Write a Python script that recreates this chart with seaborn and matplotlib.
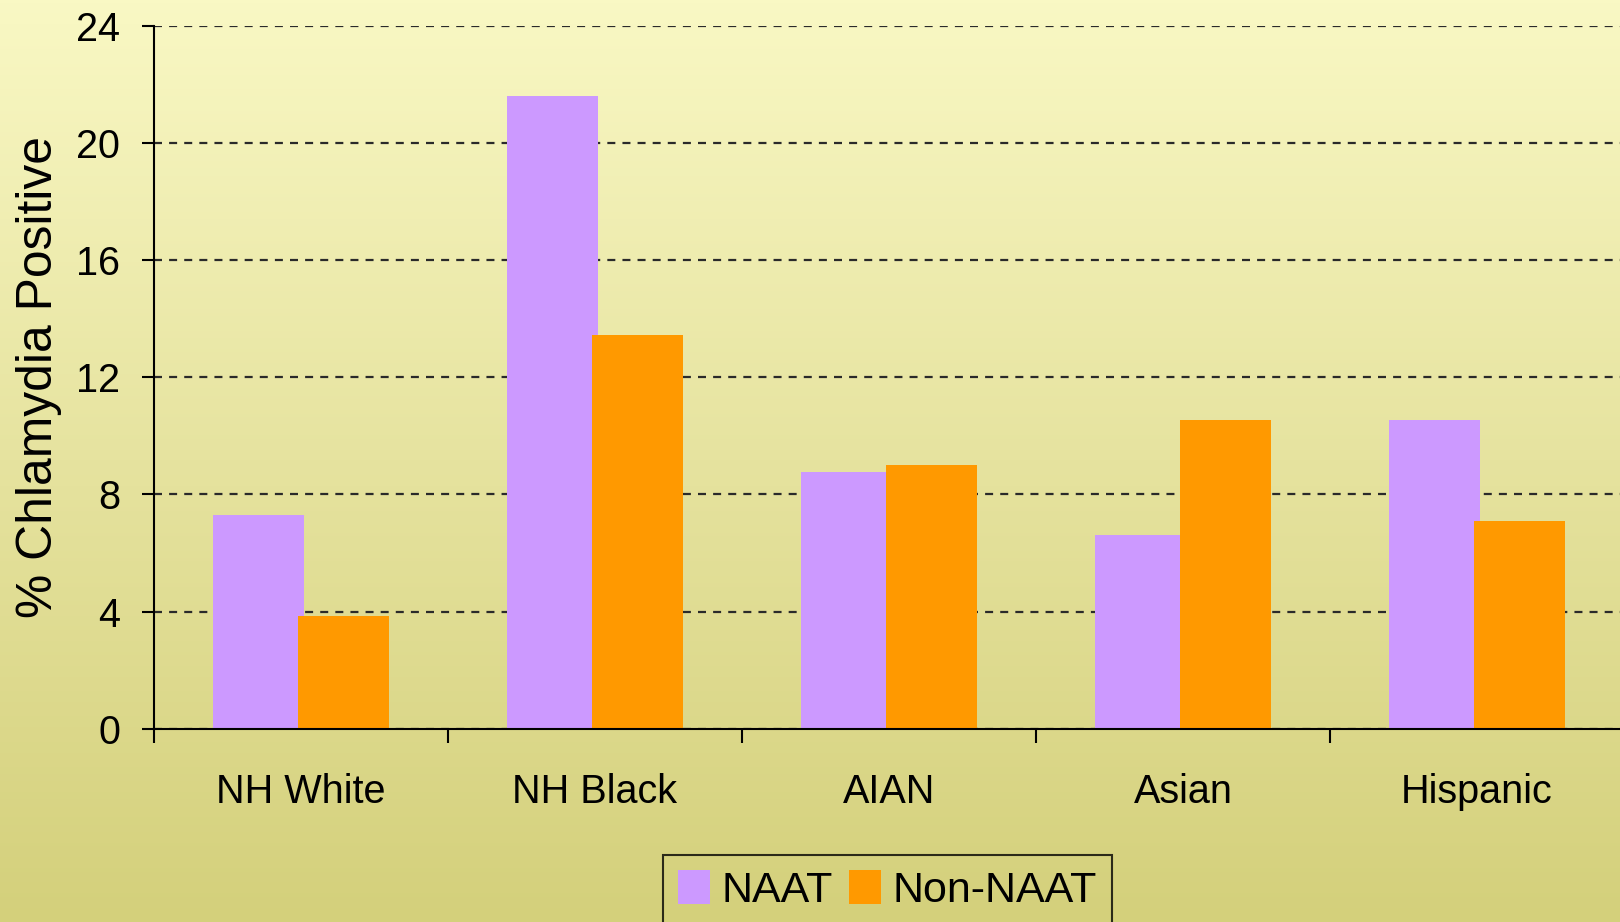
import numpy as np
import pandas as pd
import matplotlib
matplotlib.use("Agg")
import matplotlib.pyplot as plt
import seaborn as sns
from matplotlib.patches import Patch
from matplotlib.colors import LinearSegmentedColormap

# Chlamydia positivity by race/ethnicity and test type
groups = ["NH White", "NH Black", "AIAN", "Asian", "Hispanic"]
naat = [7.3, 21.6, 8.75, 6.6, 10.55]
non_naat = [3.85, 13.45, 9.0, 10.55, 7.1]
series = ["NAAT", "Non-NAAT"]
colors = {"NAAT": "#CC99FF", "Non-NAAT": "#FF9900"}
y_ticks = [0, 4, 8, 12, 16, 20, 24]

df = pd.DataFrame({
    "group": groups * 2,
    "series": [series[0]] * len(groups) + [series[1]] * len(groups),
    "value": naat + non_naat,
})

sns.set_theme(style="white")
plt.rcParams["font.family"] = ["Liberation Sans", "DejaVu Sans"]
plt.rcParams["text.color"] = "black"

W, H = 1620, 922
fig = plt.figure(figsize=(W / 100, H / 100), dpi=100)

# vertical yellow gradient behind everything
bg = fig.add_axes([0, 0, 1, 1], zorder=-10)
grad = np.linspace(0, 1, 256).reshape(-1, 1)
cmap = LinearSegmentedColormap.from_list("bg", ["#F9F8C4", "#E6E39F", "#D4D07B"])
bg.imshow(grad, aspect="auto", cmap=cmap, extent=[0, 1, 0, 1], origin="upper")
bg.axis("off")

left, right = 154, 1624
top, bottom = 25.7, 728.7
ax = fig.add_axes([left / W, 1 - bottom / H, (right - left) / W, (bottom - top) / H])
ax.set_facecolor("none")

sns.barplot(data=df, x="group", y="value", hue="series", hue_order=series,
            palette=colors, width=0.58, saturation=1, legend=False,
            linewidth=0, edgecolor="none", ax=ax)

# let the paired bars overlap slightly
for p in ax.patches:
    p.set_x(p.get_x() - 0.01)
    p.set_width(p.get_width() + 0.02)

ax.set_xlim(-0.5, 4.5)
ax.set_ylim(0, 24)
ax.set_yticks(y_ticks)
ax.set_yticklabels([str(t) for t in y_ticks])

ax.set_axisbelow(True)
ax.yaxis.grid(True, linestyle=(0, (3.6, 3.2)), color="#2a2a2a", linewidth=1.6)
ax.xaxis.grid(False)

for s in ["top", "right"]:
    ax.spines[s].set_visible(False)
for s in ["left", "bottom"]:
    ax.spines[s].set_color("black")
    ax.spines[s].set_linewidth(1.5)

ax.set_xticks(np.arange(-0.5, 4.6, 1.0), minor=True)
ax.tick_params(axis="x", which="major", bottom=True, length=0, pad=32,
               labelsize=28.5, colors="black")
ax.tick_params(axis="x", which="minor", bottom=True, length=10, width=1.5,
               direction="out", color="black")
ax.tick_params(axis="y", which="major", left=True, length=8.6, width=1.5,
               pad=15.8, labelsize=28.5, colors="black", direction="out")

ax.set_xlabel("")
ax.set_ylabel("% Chlamydia Positive", fontsize=35.8, color="black")
ax.yaxis.set_label_coords(-0.0626, 0.5)

handles = [Patch(facecolor=colors[s], edgecolor="none", label=s) for s in series]
leg = fig.legend(handles=handles, loc="upper center",
                 bbox_to_anchor=(887.5 / W, 1 - 855 / H), ncol=2, fontsize=31,
                 frameon=True, fancybox=False, edgecolor="black",
                 facecolor="none", borderaxespad=0, handlelength=0.75,
                 handleheight=0.85, handletextpad=0.27, columnspacing=0.36,
                 borderpad=0.35, labelcolor="black")
leg.get_frame().set_linewidth(1.5)

fig.savefig("out.png", dpi=100)
